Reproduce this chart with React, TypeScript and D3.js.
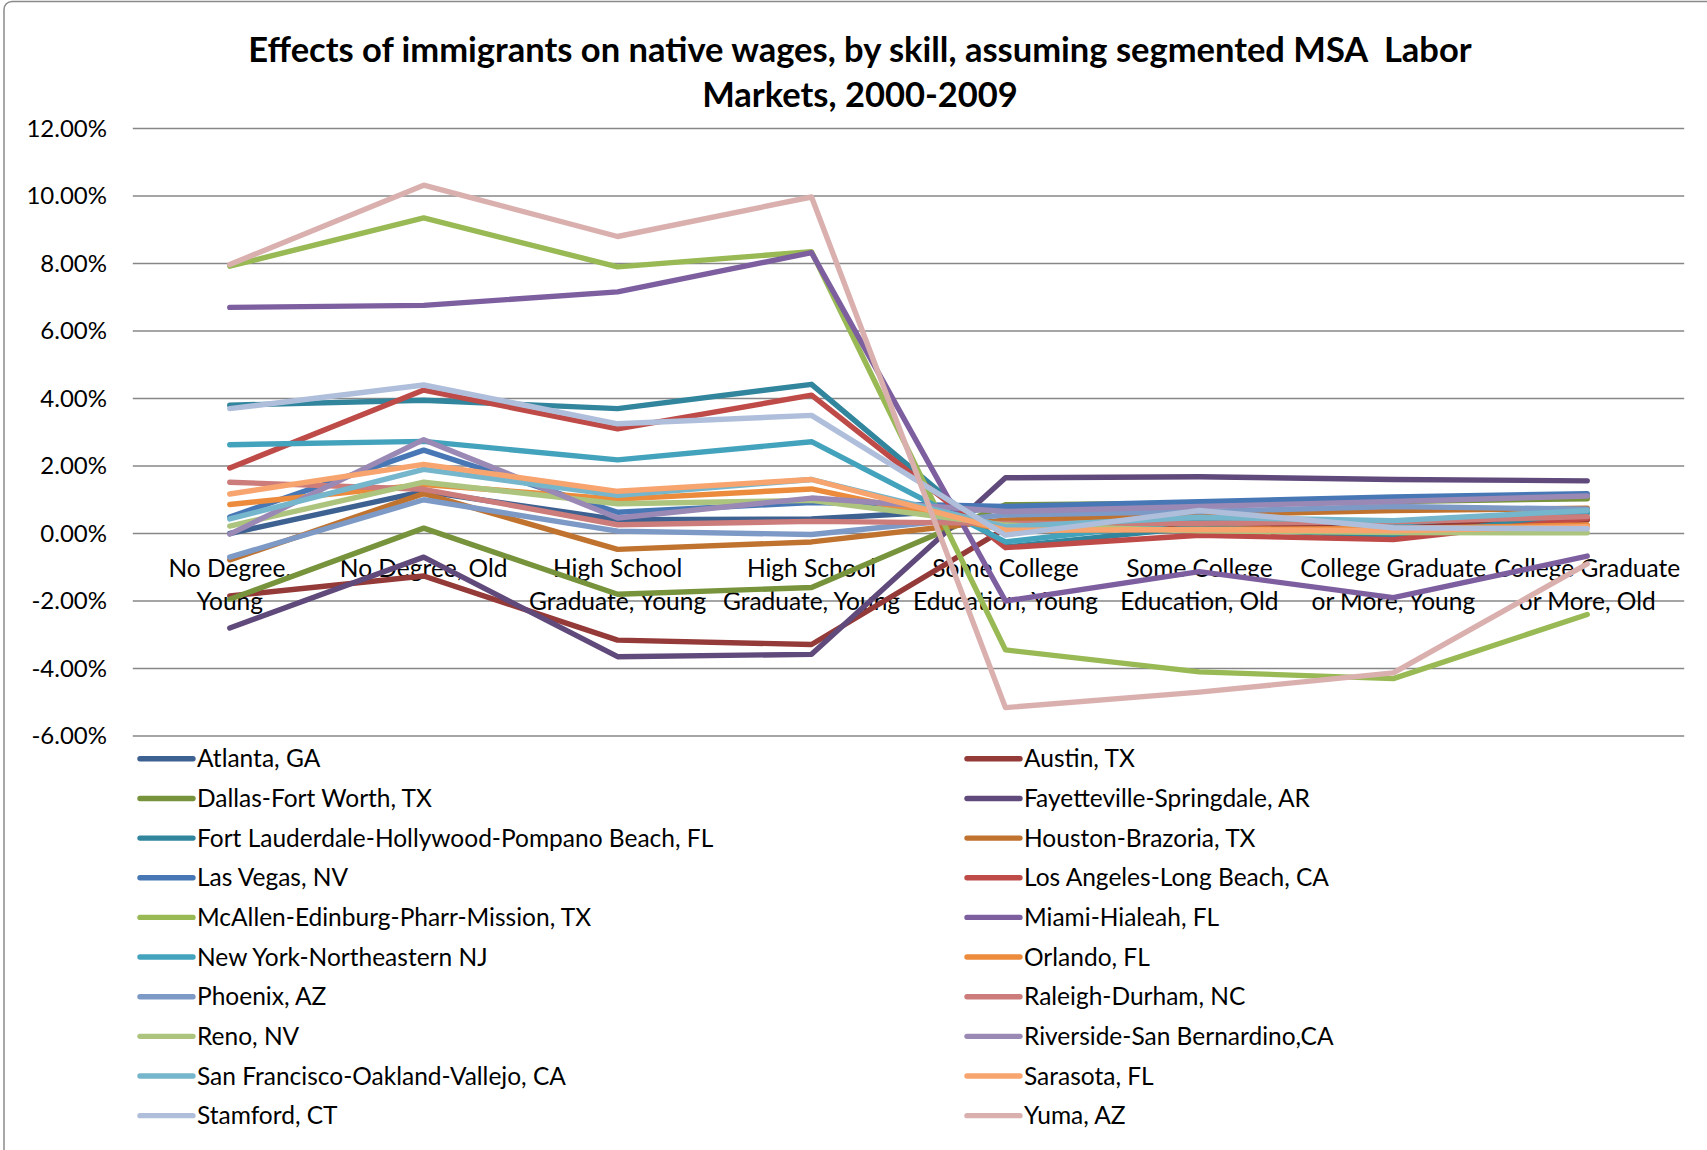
import React from "react";
import * as d3 from "d3";

const categories = [
  ["No Degree,", "Young"],
  ["No Degree, Old"],
  ["High School", "Graduate, Young"],
  ["High School", "Graduate, Young"],
  ["Some College", "Education, Young"],
  ["Some College", "Education, Old"],
  ["College Graduate", "or More, Young"],
  ["College Graduate", "or More, Old"],
];

const yTicks = [12, 10, 8, 6, 4, 2, 0, -2, -4, -6];

const seriesNames = [
  "Atlanta, GA",
  "Austin, TX",
  "Dallas-Fort Worth, TX",
  "Fayetteville-Springdale, AR",
  "Fort Lauderdale-Hollywood-Pompano Beach, FL",
  "Houston-Brazoria, TX",
  "Las Vegas, NV",
  "Los Angeles-Long Beach, CA",
  "McAllen-Edinburg-Pharr-Mission, TX",
  "Miami-Hialeah, FL",
  "New York-Northeastern NJ",
  "Orlando, FL",
  "Phoenix, AZ",
  "Raleigh-Durham, NC",
  "Reno, NV",
  "Riverside-San Bernardino,CA",
  "San Francisco-Oakland-Vallejo, CA",
  "Sarasota, FL",
  "Stamford, CT",
  "Yuma, AZ",
];

const seriesColors = [
  "#3D6191", "#943A38", "#77933C", "#604A7B", "#31859C", "#C0722F",
  "#4777B5", "#BE4B48", "#98B954", "#7D5FA0", "#43A2BC", "#EB8B3B",
  "#7D99C6", "#CB7C7B", "#ADC47E", "#9A89B5", "#75B6CC", "#F7A46F",
  "#AFBFDB", "#DAB0AF",
];

const atlanta = [0.0, 1.25, 0.41, 0.43, 0.75, 0.88, 1.0, 1.1];
const austin = [-1.85, -1.26, -3.16, -3.29, 0.15, 0.15, 0.2, 0.4];
const dallas = [-1.95, 0.16, -1.8, -1.6, 0.85, 0.9, 0.95, 1.03];
const fayetteville = [-2.8, -0.7, -3.65, -3.58, 1.65, 1.68, 1.6, 1.56];
const fortLauderdale = [3.8, 3.95, 3.7, 4.42, -0.4, 0.2, -0.1, 0.6];
const houston = [-0.78, 1.18, -0.47, -0.25, 0.4, 0.55, 0.68, 0.75];
const lasVegas = [0.49, 2.47, 0.63, 0.92, 0.8, 0.94, 1.08, 1.18];
const losAngeles = [1.94, 4.25, 3.1, 4.1, -0.42, -0.05, -0.18, 0.45];
const mcallen = [7.92, 9.35, 7.9, 8.35, -3.45, -4.1, -4.3, -2.4];
const miami = [6.7, 6.76, 7.16, 8.32, -2.0, -1.13, -1.9, -0.67];
const newYork = [2.63, 2.73, 2.18, 2.72, -0.25, 0.4, 0.3, 0.65];
const orlando = [0.86, 1.45, 1.02, 1.32, 0.1, 0.12, 0.15, 0.25];
const phoenix = [-0.7, 1.0, 0.07, -0.03, 0.55, 0.65, 0.8, 0.72];
const raleigh = [1.52, 1.31, 0.26, 0.36, 0.3, 0.3, 0.35, 0.5];
const reno = [0.22, 1.52, 0.88, 0.98, 0.25, 0.08, 0.03, 0.02];
const riverside = [-0.02, 2.78, 0.46, 1.05, 0.65, 0.8, 0.95, 1.11];
const sanFrancisco = [0.43, 1.9, 1.13, 1.6, 0.2, 0.48, 0.38, 0.68];
const sarasota = [1.17, 2.05, 1.25, 1.6, 0.1, 0.12, 0.08, 0.2];
const stamford = [3.7, 4.4, 3.25, 3.5, -0.05, 0.68, 0.17, 0.14];
const yuma = [7.97, 10.32, 8.8, 9.97, -5.16, -4.7, -4.13, -0.9];

const seriesValues = [
  atlanta, austin, dallas, fayetteville, fortLauderdale, houston,
  lasVegas, losAngeles, mcallen, miami, newYork, orlando,
  phoenix, raleigh, reno, riverside, sanFrancisco, sarasota,
  stamford, yuma,
];

const W = 1707;
const H = 1150;
const FONT = "Lato, 'Open Sans', sans-serif";

export default function App() {
  const plotLeft = 132.8;
  const plotRight = 1684.2;
  const x = d3
    .scaleBand<number>()
    .domain(categories.map((_, i) => i))
    .range([plotLeft, plotRight]);
  const cx = (i: number) => (x(i) as number) + x.bandwidth() / 2;
  const y = d3.scaleLinear().domain([-6, 12]).range([736, 128.5]);
  const line = d3
    .line<number>()
    .x((_, i) => cx(i))
    .y((d) => y(d));
  const fmt = (t: number) => d3.format(".2f")(t).replace("\u2212", "-") + "%";

  const legendRow0 = 758.8;
  const legendStep = 39.65;
  const lw = 5.4;

  return (
    <svg
      width={W}
      height={H}
      style={{ position: "absolute", left: 0, top: 0, background: "#fff" }}
      fontFamily={FONT}
    >
      <rect x={0} y={0} width={W} height={H} fill="#fff" />
      <rect
        x={4}
        y={1.5}
        width={W + 20}
        height={H + 20}
        rx={8}
        fill="none"
        stroke="#8a8a8a"
        strokeWidth={1.5}
      />
      <text
        x={860}
        y={62}
        textAnchor="middle"
        fontWeight="bold"
        fontSize={34.5}
        fill="#000"
      >
        Effects of immigrants on native wages, by skill, assuming segmented MSA{"\u00a0"} Labor
      </text>
      <text
        x={860}
        y={107}
        textAnchor="middle"
        fontWeight="bold"
        fontSize={34.5}
        fill="#000"
      >
        Markets, 2000-2009
      </text>

      {yTicks.map((t) => (
        <g key={t}>
          <line
            x1={plotLeft}
            x2={plotRight}
            y1={y(t)}
            y2={y(t)}
            stroke="#878787"
            strokeWidth={1.6}
          />
          <text
            x={107}
            y={y(t)}
            dy="0.35em"
            textAnchor="end"
            fontSize={24}
            fill="#000"
          >
            {fmt(t)}
          </text>
        </g>
      ))}

      {categories.map((lines, i) => (
        <text key={i} x={cx(i)} y={577} textAnchor="middle" fontSize={24.5} fill="#000">
          {lines.map((l, j) => (
            <tspan key={j} x={cx(i)} dy={j === 0 ? 0 : 33}>
              {l}
            </tspan>
          ))}
        </text>
      ))}

      {seriesValues.map((vals, s) => (
        <path
          key={s}
          d={line(vals) || ""}
          fill="none"
          stroke={seriesColors[s]}
          strokeWidth={lw}
          strokeLinejoin="round"
          strokeLinecap="round"
        />
      ))}

      {seriesNames.map((name, s) => {
        const col = s % 2;
        const row = Math.floor(s / 2);
        const sx = col === 0 ? 140 : 967;
        const yy = legendRow0 + row * legendStep;
        return (
          <g key={name}>
            <line
              x1={sx}
              x2={sx + 53}
              y1={yy}
              y2={yy}
              stroke={seriesColors[s]}
              strokeWidth={lw}
              strokeLinecap="round"
            />
            <text x={sx + 57} y={yy} dy="0.35em" fontSize={24.5} fill="#000">
              {name}
            </text>
          </g>
        );
      })}
    </svg>
  );
}
